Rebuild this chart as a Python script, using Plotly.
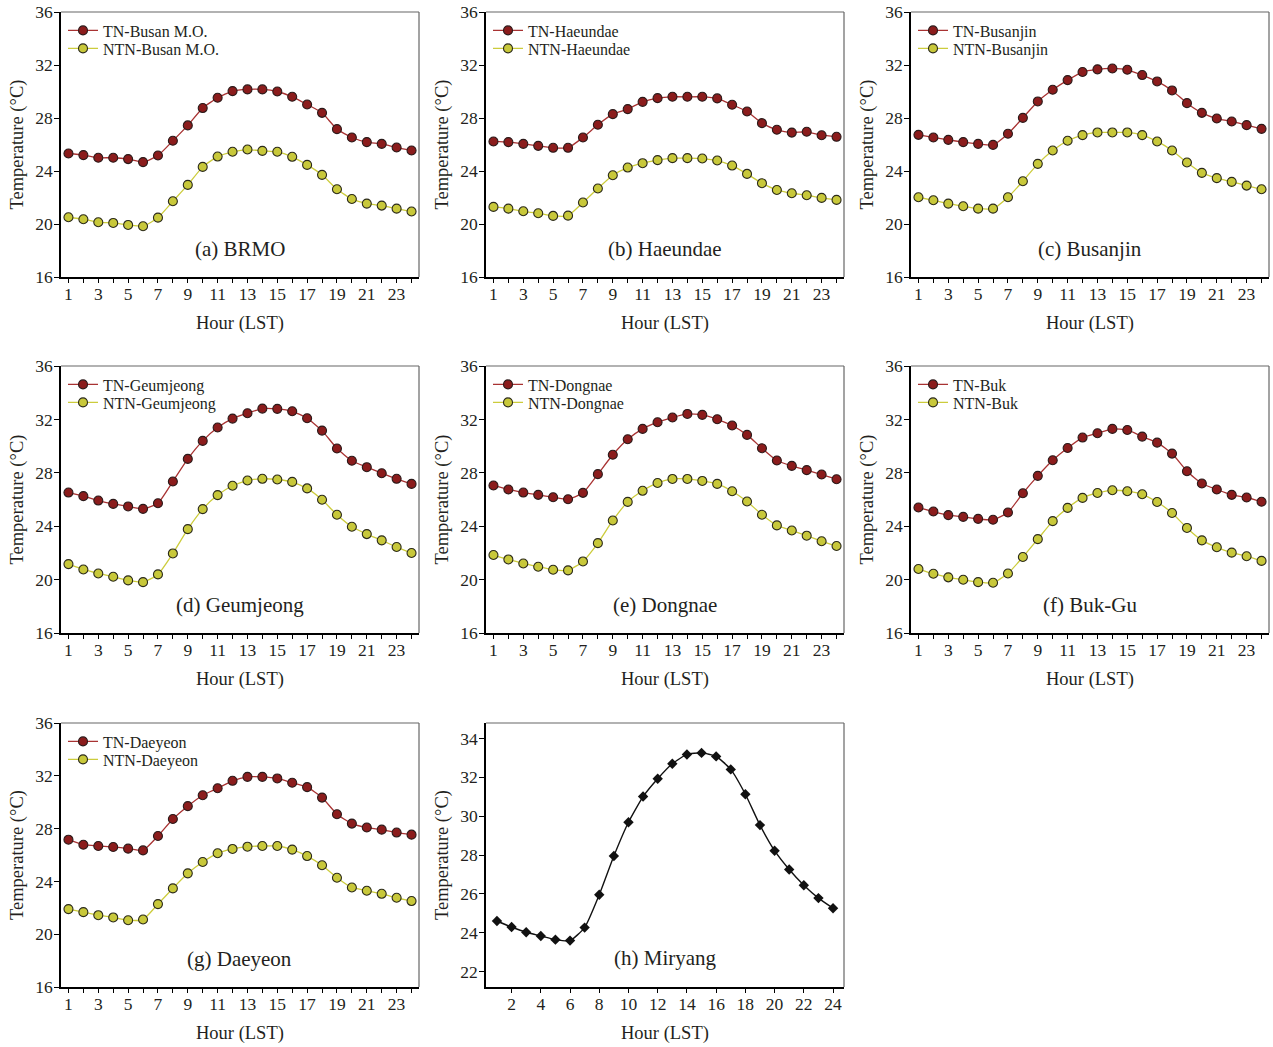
import plotly.graph_objects as go

hours = list(range(1, 25))

tn_brmo = [25.32, 25.2, 25.0, 25.0, 24.9, 24.67, 25.17, 26.28, 27.44, 28.75, 29.53, 30.03,
           30.16, 30.16, 30.0, 29.6, 29.02, 28.39, 27.16, 26.53, 26.18, 26.05, 25.77, 25.55]
ntn_brmo = [20.51, 20.36, 20.13, 20.08, 19.93, 19.83, 20.48, 21.72, 22.95, 24.31, 25.09, 25.45,
            25.62, 25.52, 25.45, 25.07, 24.46, 23.71, 22.62, 21.89, 21.54, 21.39, 21.16, 20.94]

tn_haeundae = [26.23, 26.18, 26.05, 25.9, 25.75, 25.75, 26.53, 27.49, 28.29, 28.67, 29.22, 29.5,
               29.6, 29.6, 29.6, 29.48, 29.0, 28.49, 27.61, 27.11, 26.9, 26.96, 26.7, 26.58]
ntn_haeundae = [21.29, 21.16, 20.96, 20.81, 20.61, 20.63, 21.62, 22.68, 23.68, 24.26, 24.59, 24.82,
                24.97, 24.97, 24.94, 24.79, 24.41, 23.78, 23.08, 22.57, 22.32, 22.17, 21.97, 21.82]

tn_busanjin = [26.73, 26.53, 26.35, 26.18, 26.05, 25.97, 26.81, 28.01, 29.25, 30.13, 30.86, 31.47,
               31.67, 31.74, 31.64, 31.24, 30.76, 30.08, 29.12, 28.39, 27.96, 27.74, 27.46, 27.18]
ntn_busanjin = [22.02, 21.79, 21.54, 21.34, 21.16, 21.16, 22.02, 23.23, 24.54, 25.55, 26.28, 26.71,
                26.91, 26.91, 26.91, 26.71, 26.23, 25.55, 24.64, 23.86, 23.46, 23.18, 22.9, 22.62]

tn_geumjeong = [26.52, 26.25, 25.92, 25.67, 25.48, 25.3, 25.72, 27.35, 29.04, 30.39, 31.39, 32.06,
                32.46, 32.81, 32.79, 32.61, 32.09, 31.16, 29.82, 28.9, 28.42, 27.97, 27.55, 27.17]
ntn_geumjeong = [21.16, 20.76, 20.46, 20.21, 19.94, 19.81, 20.39, 21.96, 23.78, 25.28, 26.33, 27.03,
                 27.42, 27.55, 27.5, 27.32, 26.83, 25.98, 24.86, 23.96, 23.41, 22.94, 22.44, 21.99]

tn_dongnae = [27.05, 26.75, 26.52, 26.35, 26.17, 26.02, 26.5, 27.9, 29.35, 30.51, 31.29, 31.79,
              32.14, 32.41, 32.34, 32.01, 31.54, 30.84, 29.84, 28.92, 28.52, 28.2, 27.87, 27.52]
ntn_dongnae = [21.84, 21.51, 21.21, 20.96, 20.74, 20.69, 21.36, 22.73, 24.43, 25.82, 26.65, 27.24,
               27.54, 27.54, 27.39, 27.17, 26.62, 25.85, 24.86, 24.06, 23.68, 23.29, 22.87, 22.52]

tn_buk = [25.4, 25.1, 24.83, 24.7, 24.55, 24.48, 25.03, 26.47, 27.77, 28.94, 29.86, 30.64,
          30.96, 31.29, 31.21, 30.71, 30.26, 29.44, 28.12, 27.2, 26.75, 26.35, 26.15, 25.83]
ntn_buk = [20.79, 20.44, 20.17, 19.99, 19.81, 19.76, 20.46, 21.69, 23.03, 24.38, 25.37, 26.12,
           26.49, 26.69, 26.62, 26.39, 25.81, 24.99, 23.87, 22.94, 22.42, 22.02, 21.75, 21.4]

tn_daeyeon = [27.16, 26.78, 26.68, 26.61, 26.48, 26.35, 27.44, 28.73, 29.7, 30.53, 31.06, 31.62,
              31.92, 31.92, 31.8, 31.47, 31.14, 30.35, 29.09, 28.38, 28.08, 27.92, 27.7, 27.54]
ntn_daeyeon = [21.9, 21.67, 21.44, 21.27, 21.06, 21.11, 22.28, 23.47, 24.61, 25.47, 26.13, 26.46,
               26.63, 26.68, 26.68, 26.41, 25.92, 25.22, 24.28, 23.54, 23.29, 23.06, 22.76, 22.51]

miryang = [24.6, 24.29, 24.02, 23.83, 23.64, 23.59, 24.26, 25.95, 27.95, 29.69, 31.01, 31.93,
           32.7, 33.18, 33.26, 33.08, 32.41, 31.13, 29.54, 28.22, 27.25, 26.44, 25.78, 25.26]

panel_labels = ["(a) BRMO", "(b) Haeundae", "(c) Busanjin", "(d) Geumjeong",
                "(e) Dongnae", "(f) Buk-Gu", "(g) Daeyeon"]
tn_names = ["TN-Busan M.O.", "TN-Haeundae", "TN-Busanjin", "TN-Geumjeong",
            "TN-Dongnae", "TN-Buk", "TN-Daeyeon"]
ntn_names = ["NTN-Busan M.O.", "NTN-Haeundae", "NTN-Busanjin", "NTN-Geumjeong",
             "NTN-Dongnae", "NTN-Buk", "NTN-Daeyeon"]
tn_series = [tn_brmo, tn_haeundae, tn_busanjin, tn_geumjeong, tn_dongnae, tn_buk, tn_daeyeon]
ntn_series = [ntn_brmo, ntn_haeundae, ntn_busanjin, ntn_geumjeong, ntn_dongnae, ntn_buk, ntn_daeyeon]
miryang_label = "(h) Miryang"

x_title = "Hour (LST)"
y_title = "Temperature (°C)"

# body margin is removed by post_script, so the figure fills the window
OFF = 0
W, H = 1273 - OFF, 1047 - OFF
col_left = [61, 486, 911]
col_right = [419, 844, 1269]
row_top = [12, 366, 723]
row_bot = [277, 633, 987]


def px_x(p):
    return (p - OFF) / W


def px_y(p):
    return 1 - (p - OFF) / H


FONT = "Liberation Serif"
TXT = "#231f20"
TICK_SIZE = 17.5
TITLE_SIZE = 18.5
LEG_SIZE = 16
LABEL_SIZE = 21

fig = go.Figure()
layout = dict(
    width=W, height=H,
    margin=dict(l=0, r=0, t=0, b=0),
    paper_bgcolor="white", plot_bgcolor="white",
    font=dict(family=FONT, color=TXT, size=16),
    showlegend=True,
)
annotations = []
shapes = []


def axis_common():
    return dict(showline=True, linecolor="black", linewidth=1.5, mirror=False,
                showgrid=False, zeroline=False, ticks="outside", tickcolor="black",
                tickwidth=1.2, automargin=False, ticklabeloverflow="allow",
                tickfont=dict(family=FONT, size=TICK_SIZE, color=TXT))


def add_frame(i, label, label_y):
    xn = "x" if i == 1 else f"x{i}"
    yn = "y" if i == 1 else f"y{i}"
    for (x0, y0, x1, y1) in [(0, 1, 1, 1), (1, 0, 1, 1)]:
        shapes.append(dict(type="line", xref=f"{xn} domain", yref=f"{yn} domain",
                           x0=x0, y0=y0, x1=x1, y1=y1,
                           line=dict(color="#666666", width=1.2)))
    annotations.append(dict(text=label, xref=f"{xn} domain", yref=yn, x=0.5, y=label_y,
                            showarrow=False, xanchor="center", yanchor="middle",
                            font=dict(family=FONT, size=LABEL_SIZE, color=TXT)))
    annotations.append(dict(text=x_title, xref=f"{xn} domain", yref=f"{yn} domain",
                            x=0.5, y=0, yshift=-46, showarrow=False,
                            xanchor="center", yanchor="middle",
                            font=dict(family=FONT, size=TITLE_SIZE, color=TXT)))
    annotations.append(dict(text=y_title, xref=f"{xn} domain", yref=f"{yn} domain",
                            x=0, y=0.5, xshift=-44, showarrow=False, textangle=-90,
                            xanchor="center", yanchor="middle",
                            font=dict(family=FONT, size=TITLE_SIZE, color=TXT)))


def legend_box(c, center_y):
    return dict(x=px_x(col_left[c] + 2), y=px_y(center_y - 17.5),
                xanchor="left", yanchor="top", bgcolor="rgba(0,0,0,0)",
                font=dict(family=FONT, size=LEG_SIZE, color=TXT),
                itemclick=False, itemdoubleclick=False)


for k in range(7):
    i = k + 1
    r, c = divmod(k, 3)
    xn = "x" if i == 1 else f"x{i}"
    yn = "y" if i == 1 else f"y{i}"
    xa = axis_common()
    xa.update(domain=[px_x(col_left[c]), px_x(col_right[c])], range=[0.5, 24.5],
              tickvals=hours, ticktext=[str(h) if h % 2 else "" for h in hours],
              ticklen=4, ticklabelstandoff=-4, anchor=yn)
    ya = axis_common()
    ya.update(domain=[px_y(row_bot[r]), px_y(row_top[r])], range=[16, 36],
              tickvals=[16, 20, 24, 28, 32, 36], ticklen=5, ticklabelstandoff=-2,
              anchor=xn)
    layout["xaxis" if i == 1 else f"xaxis{i}"] = xa
    layout["yaxis" if i == 1 else f"yaxis{i}"] = ya

    lg1 = "legend" if k == 0 else f"legend{2 * k + 1}"
    lg2 = f"legend{2 * k + 2}"
    layout[lg1] = legend_box(c, row_top[r] + 19)
    layout[lg2] = legend_box(c, row_top[r] + 37)

    fig.add_trace(go.Scatter(
        x=hours, y=tn_series[k], name=tn_names[k], mode="lines+markers",
        xaxis=xn, yaxis=yn, legend=lg1,
        line=dict(color="#a83232", width=1.3, shape="spline", smoothing=0.5),
        marker=dict(size=9, color="#8b1c1c", line=dict(color="#2b1a1a", width=1.1))))
    fig.add_trace(go.Scatter(
        x=hours, y=ntn_series[k], name=ntn_names[k], mode="lines+markers",
        xaxis=xn, yaxis=yn, legend=lg2,
        line=dict(color="#cccc3c", width=1.3, shape="spline", smoothing=0.5),
        marker=dict(size=9, color="#c8c83a", line=dict(color="#2b2a1a", width=1.1))))
    add_frame(i, panel_labels[k], 18.1)

# Panel (h) Miryang
r, c = 2, 1
xa = axis_common()
xa.update(domain=[px_x(col_left[c]), px_x(col_right[c])], range=[0.25, 24.75],
          tickvals=list(range(2, 25, 2)), ticklen=4, ticklabelstandoff=-4, anchor="y8")
ya = axis_common()
ya.update(domain=[px_y(row_bot[r]), px_y(row_top[r])], range=[21.2, 34.8],
          tickvals=list(range(22, 35, 2)), ticklen=5, ticklabelstandoff=-2, anchor="x8")
layout["xaxis8"] = xa
layout["yaxis8"] = ya
fig.add_trace(go.Scatter(
    x=hours, y=miryang, name="Miryang", mode="lines+markers", xaxis="x8", yaxis="y8",
    showlegend=False,
    line=dict(color="#111111", width=1.4, shape="spline", smoothing=0.5),
    marker=dict(symbol="diamond", size=8, color="#111111")))
add_frame(8, miryang_label, 22.68)

layout["annotations"] = annotations
layout["shapes"] = shapes
fig.update_layout(**layout)
fig.write_html("out.html",
               config={"displayModeBar": False},
               post_script="document.body.style.margin='0';document.body.style.overflow='hidden';")
